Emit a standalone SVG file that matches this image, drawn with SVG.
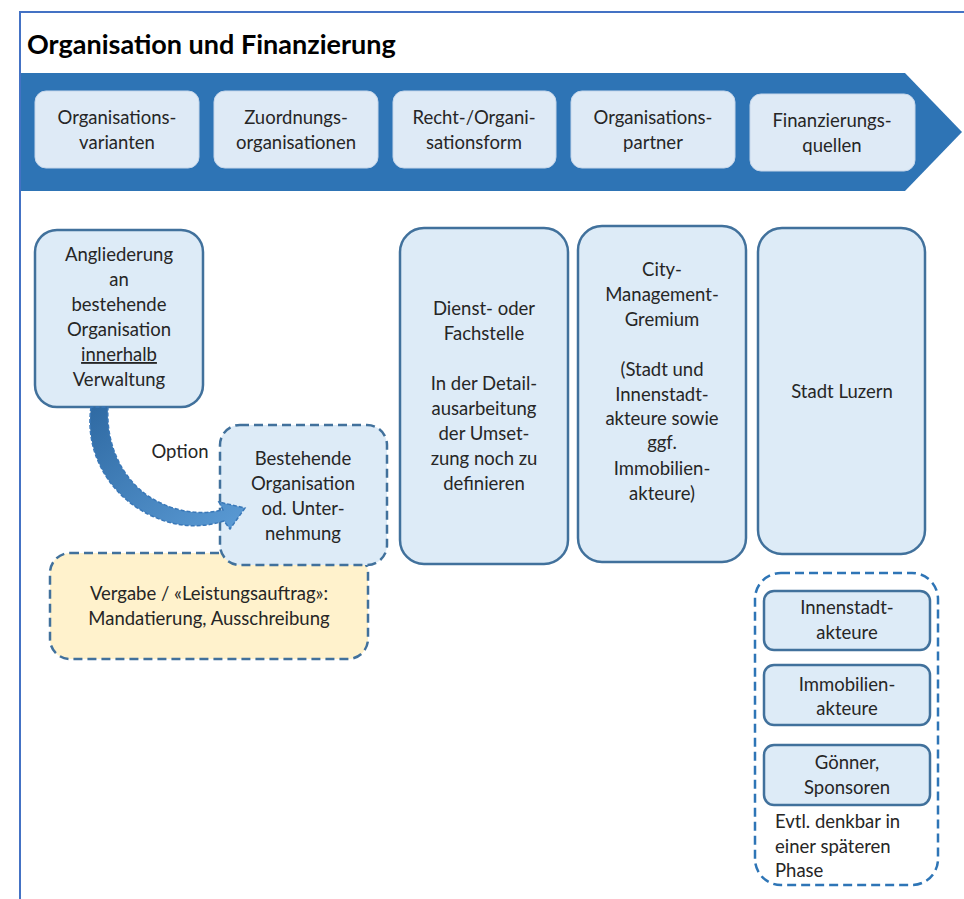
<svg xmlns="http://www.w3.org/2000/svg" width="964" height="899" viewBox="0 0 964 899">
<defs>
<linearGradient id="arrowGrad" x1="0" y1="0" x2="1" y2="1">
<stop offset="0" stop-color="#2F6AA3"/>
<stop offset="1" stop-color="#5B9BD5"/>
</linearGradient>
<style>
text{font-family:Lato,"Liberation Sans",sans-serif;font-size:18.5px;fill:#262626;text-anchor:middle}
.title{font-size:27px;font-weight:bold;text-anchor:start;fill:#000}
.hdr{fill:#DEEAF6;stroke:#C5D6EA;stroke-width:1}
.hdr-t{font-size:18.5px}
.box{fill:#DDEBF7;stroke:#41719C;stroke-width:2.5}
.dbox{fill:#DDEBF7;stroke:#41719C;stroke-width:2.5;stroke-dasharray:9 5}
.ybox{fill:#FFF2CC;stroke:#41719C;stroke-width:2.5;stroke-dasharray:9 5}
.cont{fill:none;stroke:#2E75B6;stroke-width:2.5;stroke-dasharray:9 5}
.left{text-anchor:start}
</style>
</defs>
<rect width="964" height="899" fill="#fff"/>
<g id="frame" fill="none" stroke="#4472C4" stroke-width="2">
<path d="M20 899 V12 H964"/>
</g>
<text class="title" x="27" y="54">Organisation und Finanzierung</text>
<g id="band">
<path d="M21 73 H905 L962 132 L905 191 H21 Z" fill="#2E74B5"/>
</g>
<g id="h1"><rect class="hdr" x="35" y="91" width="164" height="77" rx="11"/><text class="hdr-t" x="117" y="124">Organisations-</text><text class="hdr-t" x="117" y="149">varianten</text></g>
<g id="h2"><rect class="hdr" x="214" y="91" width="164" height="77" rx="11"/><text class="hdr-t" x="296" y="124">Zuordnungs-</text><text class="hdr-t" x="296" y="149">organisationen</text></g>
<g id="h3"><rect class="hdr" x="393" y="91" width="163" height="77" rx="11"/><text class="hdr-t" x="474" y="124">Recht-/Organi-</text><text class="hdr-t" x="474" y="149">sationsform</text></g>
<g id="h4"><rect class="hdr" x="571" y="91" width="164" height="77" rx="11"/><text class="hdr-t" x="653" y="124">Organisations-</text><text class="hdr-t" x="653" y="149">partner</text></g>
<g id="h5"><rect class="hdr" x="750" y="94" width="165" height="77" rx="11"/><text class="hdr-t" x="832" y="127">Finanzierungs-</text><text class="hdr-t" x="832" y="152">quellen</text></g>

<g id="yellow"><rect class="ybox" x="50" y="553" width="318" height="106" rx="20"/><text x="209" y="600">Vergabe / «Leistungsauftrag»:</text><text x="209" y="625">Mandatierung, Ausschreibung</text></g>

<g id="angliederung"><rect class="box" x="35" y="230" width="168" height="177" rx="22"/>
<text x="119" y="261">Angliederung</text><text x="119" y="286">an</text><text x="119" y="311">bestehende</text><text x="119" y="336">Organisation</text><text x="119" y="361" text-decoration="underline">innerhalb</text><text x="119" y="386">Verwaltung</text></g>

<g id="bestehende"><rect class="dbox" x="220" y="425" width="167" height="140" rx="20"/>
<text x="303" y="465">Bestehende</text><text x="303" y="490">Organisation</text><text x="303" y="515">od. Unter-</text><text x="303" y="540">nehmung</text></g>

<g id="connectors">
<path d="M91 407 C84 455 112 498 152 516 C178 528 202 528 224 521 L230 529 L245 508 L219 502 L223 510 C196 516 172 511 148 496 C120 476 106 443 108 407 Z" fill="url(#arrowGrad)" stroke="#3A78B8" stroke-width="1.5" stroke-dasharray="4 2"/>
<text x="180" y="458">Option</text>
</g>

<g id="dienst"><rect class="box" x="400" y="228" width="168" height="336" rx="24"/>
<text x="484" y="315">Dienst- oder</text><text x="484" y="340">Fachstelle</text><text x="484" y="390">In der Detail-</text><text x="484" y="415">ausarbeitung</text><text x="484" y="440">der Umset-</text><text x="484" y="465">zung noch zu</text><text x="484" y="490">definieren</text></g>

<g id="city"><rect class="box" x="578" y="226" width="168" height="336" rx="24"/>
<text x="662" y="276">City-</text><text x="662" y="301">Management-</text><text x="662" y="326">Gremium</text><text x="662" y="376">(Stadt und</text><text x="662" y="401">Innenstadt-</text><text x="662" y="425">akteure sowie</text><text x="662" y="449">ggf.</text><text x="662" y="475">Immobilien-</text><text x="662" y="500">akteure)</text></g>

<g id="luzern"><rect class="box" x="758" y="228" width="167" height="326" rx="24"/>
<text x="842" y="398">Stadt Luzern</text></g>

<g id="container"><rect class="cont" x="755" y="573" width="183" height="312" rx="26"/>
<text class="left" x="775" y="828">Evtl. denkbar in</text><text class="left" x="775" y="853">einer späteren</text><text class="left" x="775" y="877">Phase</text></g>

<g id="innenstadt"><rect class="box" x="764" y="591" width="166" height="59" rx="10"/><text x="847" y="614">Innenstadt-</text><text x="847" y="639">akteure</text></g>
<g id="immobilien"><rect class="box" x="764" y="665" width="166" height="60" rx="10"/><text x="847" y="691">Immobilien-</text><text x="847" y="715">akteure</text></g>
<g id="goenner"><rect class="box" x="764" y="745" width="166" height="60" rx="10"/><text x="847" y="769">Gönner,</text><text x="847" y="794">Sponsoren</text></g>
</svg>
